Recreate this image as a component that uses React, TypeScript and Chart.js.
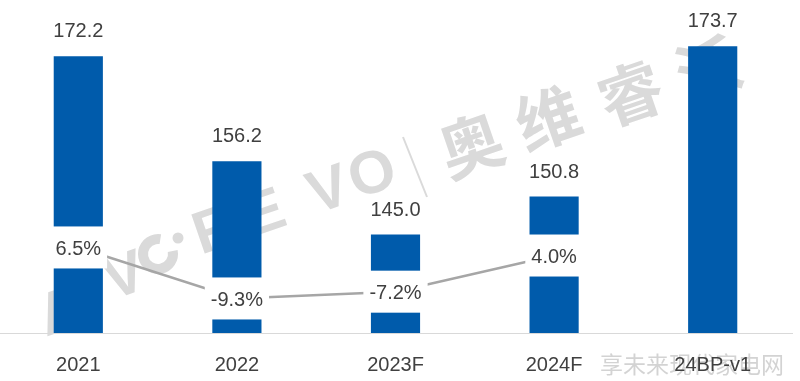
import React, { useEffect, useRef } from 'react';
import { Chart, registerables } from 'chart.js';

Chart.register(...registerables);

const categories = ['2021', '2022', '2023F', '2024F', '24BP-v1'];
const volumes = [172.2, 156.2, 145.0, 150.8, 173.7];
const volumeLabels = ['172.2', '156.2', '145.0', '150.8', '173.7'];
const growth: (number | null)[] = [6.5, -9.3, -7.2, 4.0, null];
const growthLabels = ['6.5%', '-9.3%', '-7.2%', '4.0%', ''];
const watermarkLatin = ['A', 'V', 'R', 'E', 'V', 'O'];
const watermarkCjk = ['奥', '维', '睿', '沃'];
const footerText = '享未来现代家电网';

const FONT = '"Liberation Sans", Arial, sans-serif';
const CJK = '"Noto Sans CJK SC", sans-serif';

const overlayPlugin = {
  id: 'overlay',
  beforeDraw(chart: any) {
    const ctx = chart.ctx as CanvasRenderingContext2D;
    ctx.save();
    const ang = (-19 * Math.PI) / 180;
    ctx.fillStyle = '#dadada';
    ctx.strokeStyle = '#dadada';
    ctx.textAlign = 'center';
    ctx.textBaseline = 'middle';
    const latinPos = [
      [61, 314],
      [125, 278],
      [216, 232],
      [265, 215],
      [329, 192],
      [373, 176],
    ];
    ctx.font = `bold 60px ${FONT}`;
    watermarkLatin.forEach((t, i) => {
      ctx.save();
      ctx.translate(latinPos[i][0] + 1, latinPos[i][1]);
      ctx.rotate(ang);
      ctx.fillText(t, 0, 0);
      ctx.restore();
    });
    ctx.save();
    ctx.lineWidth = 10;
    ctx.beginPath();
    ctx.arc(159, 254, 15, -0.2, Math.PI * 1.55, false);
    ctx.stroke();
    ctx.beginPath();
    ctx.arc(179, 238, 5.5, 0, Math.PI * 2);
    ctx.fill();
    ctx.restore();
    ctx.save();
    ctx.lineWidth = 2;
    ctx.beginPath();
    ctx.moveTo(404, 137);
    ctx.lineTo(428, 197);
    ctx.stroke();
    ctx.restore();
    const cjkPos = [
      [472, 145],
      [549, 118],
      [631, 93],
      [709, 68],
    ];
    ctx.font = `bold 64px ${CJK}`;
    watermarkCjk.forEach((t, i) => {
      ctx.save();
      ctx.translate(cjkPos[i][0], cjkPos[i][1]);
      ctx.rotate(ang);
      ctx.fillText(t, 0, 0);
      ctx.restore();
    });
    ctx.fillStyle = 'rgba(175,175,175,0.55)';
    ctx.font = `23px ${CJK}`;
    ctx.textAlign = 'right';
    ctx.fillText(footerText, 785, 364);
    ctx.restore();
  },
  afterDatasetsDraw(chart: any) {
    const ctx = chart.ctx as CanvasRenderingContext2D;
    ctx.save();
    ctx.font = `20px ${FONT}`;
    ctx.textAlign = 'center';
    ctx.textBaseline = 'middle';
    const barMeta = chart.getDatasetMeta(1);
    barMeta.data.forEach((el: any, i: number) => {
      ctx.fillStyle = '#404040';
      ctx.fillText(volumeLabels[i], el.x, el.y - 24.5);
    });
    const lineMeta = chart.getDatasetMeta(0);
    lineMeta.data.forEach((el: any, i: number) => {
      if (growth[i] == null) return;
      const t = growthLabels[i];
      const w = ctx.measureText(t).width + 12;
      ctx.fillStyle = '#ffffff';
      ctx.fillRect(el.x - w / 2, el.y - 21, w, 42);
      ctx.fillStyle = '#404040';
      ctx.fillText(t, el.x, el.y + 2);
    });
    ctx.restore();
  },
};

export default function App() {
  const ref = useRef<HTMLCanvasElement>(null);
  useEffect(() => {
    if (!ref.current) return;
    const chart = new Chart(ref.current, {
      type: 'bar',
      data: {
        labels: categories,
        datasets: [
          {
            type: 'line',
            label: 'growth',
            data: growth as any,
            yAxisID: 'y2',
            borderColor: '#A6A6A6',
            borderWidth: 2.5,
            pointRadius: 0,
            tension: 0,
            order: 0,
          } as any,
          {
            type: 'bar',
            label: 'volume',
            data: volumes,
            yAxisID: 'y',
            backgroundColor: '#005BAB',
            borderWidth: 0,
            barPercentage: 0.31,
            categoryPercentage: 1,
            order: 1,
          },
        ],
      },
      options: {
        responsive: false,
        animation: false,
        layout: { padding: { top: 5, left: 0, right: 8, bottom: 0 } },
        plugins: {
          legend: { display: false },
          tooltip: { enabled: false },
        },
        scales: {
          x: {
            grid: { display: false, drawTicks: false },
            border: { display: true, color: '#D9D9D9', width: 1 },
            ticks: {
              color: '#404040',
              font: { size: 20, family: FONT },
              padding: 20,
              maxRotation: 0,
            },
          },
          y: { display: false, min: 130, max: 180 },
          y2: { display: false, position: 'right', min: -20, max: 81.6 },
        },
      },
      plugins: [overlayPlugin],
    });
    return () => chart.destroy();
  }, []);
  return (
    <div style={{ position: 'absolute', left: -1, top: 0, width: 801, height: 381, overflow: 'hidden', background: '#fff' }}>
      <canvas ref={ref} width={801} height={397} style={{ display: 'block' }} />
    </div>
  );
}
